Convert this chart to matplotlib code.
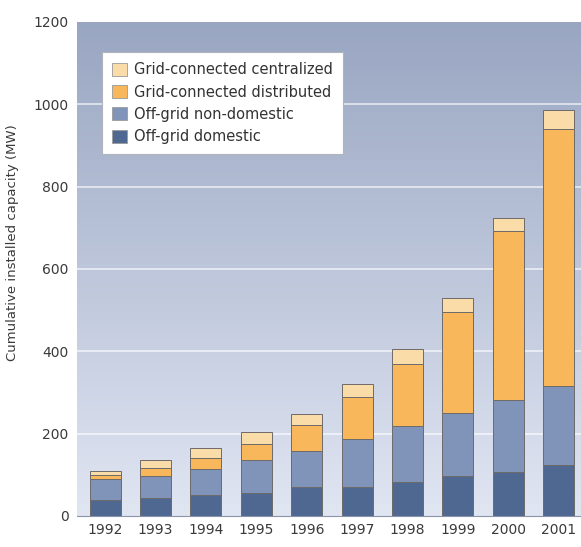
"""
plot.py

Stacked bar chart of cumulative installed PV capacity by market segment, 1992-2001.
"""

import numpy as np
import matplotlib.pyplot as plt
from matplotlib.patches import Patch

years = ['1992', '1993', '1994', '1995', '1996', '1997', '1998', '1999', '2000', '2001']
off_grid_domestic = [39, 43, 51, 55, 70, 71, 83, 96, 106, 124]
off_grid_non_domestic = [50, 54, 63, 81, 89, 116, 136, 154, 176, 191]
grid_distributed = [11, 19, 26, 39, 62, 101, 150, 246, 410, 624]
grid_centralized = [10, 20, 25, 28, 26, 32, 37, 33, 31, 47]

series = [
    ('Off-grid domestic', off_grid_domestic, '#4f6892'),
    ('Off-grid non-domestic', off_grid_non_domestic, '#8093b9'),
    ('Grid-connected distributed', grid_distributed, '#f8b75a'),
    ('Grid-connected centralized', grid_centralized, '#fadca8'),
]

plt.rcParams['font.family'] = ['DejaVu Sans']

fig = plt.figure(figsize=(5.81, 5.47), dpi=100)
ax = fig.add_axes([0.1325, 0.0567, 0.8675, 0.9033])

x = np.arange(len(years))
ax.set_xlim(-0.556, 9.44)
ax.set_ylim(0, 1200)

# vertical gradient background, darker at the top
grad = np.linspace(0, 1, 256).reshape(-1, 1)
top = np.array([0.60, 0.65, 0.76])
bottom = np.array([0.88, 0.90, 0.95])
colors = bottom + (top - bottom) * grad
ax.imshow(colors[:, None, :].repeat(2, axis=1), extent=(-0.556, 9.44, 0, 1200),
          origin='lower', aspect='auto', zorder=0)

for yv in range(200, 1200, 200):
    ax.axhline(yv, color='white', lw=1.3, alpha=0.65, zorder=1)

base = np.zeros(len(years))
for name, values, color in series:
    ax.bar(x, values, width=0.615, bottom=base, color=color,
           edgecolor='#6d6a6a', linewidth=0.7, zorder=2)
    base += np.array(values)

ax.set_xticks(x)
ax.set_xticklabels(years)
ax.set_yticks(range(0, 1201, 200))
ax.tick_params(length=0, labelsize=10, labelcolor='#3a3a3a', pad=6)
ax.tick_params(axis='x', pad=5)

for side in ('top', 'right', 'left'):
    ax.spines[side].set_visible(False)
ax.spines['bottom'].set_color('#8c95a8')
ax.spines['bottom'].set_linewidth(0.8)

ax.set_ylabel('Cumulative installed capacity (MW)', fontsize=9.5, color='#3a3a3a')
ax.yaxis.set_label_coords(-0.115, 0.553)

handles = [Patch(facecolor=c, edgecolor='#9a9a9a', linewidth=0.6, label=n)
           for n, _, c in reversed(series)]
leg = ax.legend(handles=handles, loc='upper left', bbox_to_anchor=(0.05, 0.939),
                borderaxespad=0, fontsize=10.5, frameon=True, fancybox=False,
                borderpad=0.7, handlelength=1.0, handleheight=1.0,
                handletextpad=0.5, labelspacing=0.5, labelcolor='#333333')
leg.get_frame().set_facecolor('white')
leg.get_frame().set_edgecolor('#b0b4bd')
leg.get_frame().set_linewidth(0.8)
leg.get_frame().set_alpha(1.0)

fig.savefig('out.png', dpi=100)
